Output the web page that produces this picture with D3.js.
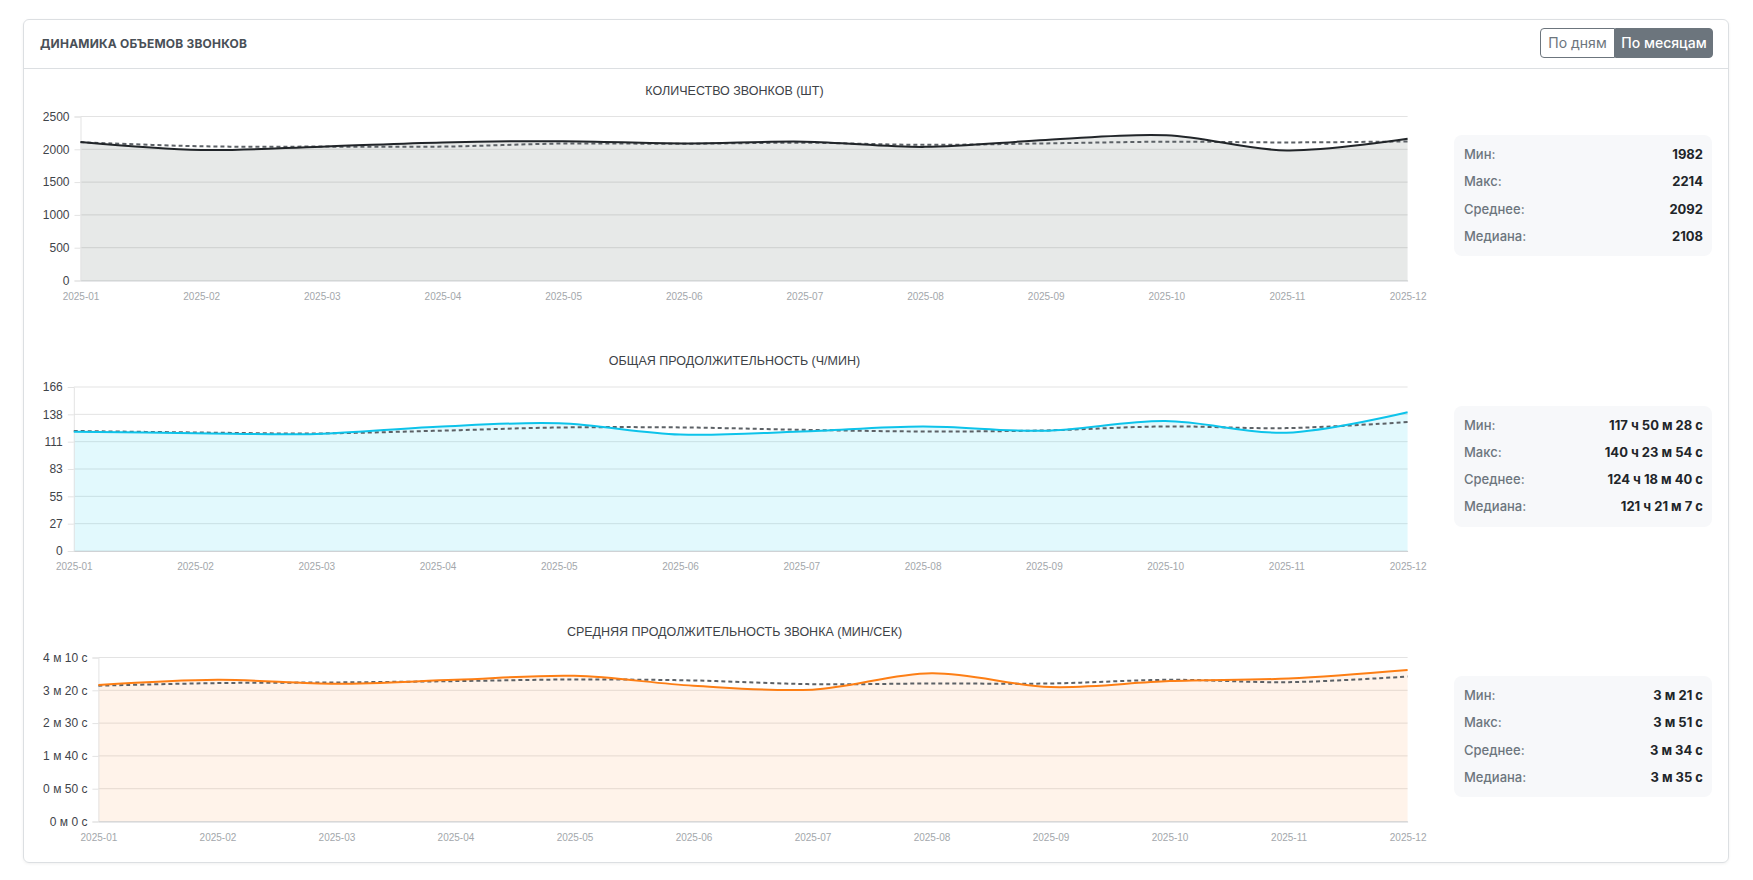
<!DOCTYPE html>
<html>
<head>
<meta charset="utf-8">
<title>Динамика объемов звонков</title>
<script src="https://cdn.jsdelivr.net/npm/d3@7/dist/d3.min.js"></script>
<style>
  body { margin: 0; background: #fff; font-family: Inter, "Open Sans", sans-serif; }
  .card { position: absolute; left: 23px; top: 19px; width: 1706px; height: 844px;
          border: 1px solid #dcdfe2; border-radius: 6px; box-sizing: border-box;
          box-shadow: 0 1px 3px rgba(0,0,0,0.06); }
  .card-head { position: absolute; left: 0; top: 0; right: 0; height: 48px; border-bottom: 1px solid #dcdfe2; }
  .card-title { position: absolute; left: 16px; top: 16px; font-size: 12px; font-weight: 700;
                color: #495057; letter-spacing: 0.2px; }
  .btns { position: absolute; left: 1516px; top: 8px; display: flex; }
  .btn { height: 30px; box-sizing: border-box; font-size: 14px; line-height: 28px; padding: 0;
         text-align: center; white-space: nowrap; flex: none;
         border: 1px solid #6c757d; color: #6c757d; background: #fff; }
  .btn.l { width: 75px; border-radius: 4px 0 0 4px; }
  .btn.r { width: 98px; border-radius: 0 4px 4px 0; background: #6c757d; color: #fff; font-weight: 500; }
  .stats { position: absolute; left: 1454px; width: 258px; height: 121px; background: #f7f8fa;
           border-radius: 8px; box-sizing: border-box; padding: 9px 9px 0 10px; }
  .row { display: flex; justify-content: space-between; height: 27.3px; line-height: 21px; font-size: 13px; }
  .row .k { color: #6c757d; font-weight: 500; }
  .row .v { color: #212529; font-weight: 700; }
  svg { position: absolute; left: 0; top: 0; }
</style>
</head>
<body>
<div class="card">
  <div class="card-head">
    <div class="card-title">ДИНАМИКА ОБЪЕМОВ ЗВОНКОВ</div>
    <div class="btns"><div class="btn l">По дням</div><div class="btn r">По месяцам</div></div>
  </div>
</div>
<svg id="charts" width="1753" height="880"></svg>
<script>
const months = ['2025-01','2025-02','2025-03','2025-04','2025-05','2025-06',
                '2025-07','2025-08','2025-09','2025-10','2025-11','2025-12']

// количество звонков
const callsCount = [2112, 1990, 2040, 2104, 2124, 2090, 2116, 2037, 2142, 2214, 1982, 2160]
const callsTrend = [2108, 2046, 2041, 2041, 2088, 2084, 2100, 2068, 2090, 2116, 2105, 2120]
const callsTicks = [0, 500, 1000, 1500, 2000, 2500]
const callsTickLabels = ['0', '500', '1000', '1500', '2000', '2500']

// общая продолжительность, часы
const totalHours = [120.7, 119.3, 118.5, 125.8, 129.2, 117.84, 121.0, 126.1, 121.7, 131.5, 119.7, 140.4]
const totalTrend = [121.5, 120.0, 119.0, 121.7, 125.0, 125.1, 122.7, 121.0, 122.0, 126.1, 124.4, 130.5]
const totalTicks = [0, 27.667, 55.333, 83, 110.667, 138.333, 166]
const totalTickLabels = ['0', '27', '55', '83', '111', '138', '166']

// средняя продолжительность, секунды
const avgSeconds = [208, 216, 210, 216, 222, 207, 201, 226, 205, 214, 218, 231]
const avgTrend = [207, 211, 212, 214, 216.5, 215, 209.3, 210.4, 210.4, 216, 212.4, 221]
const avgTicks = [0, 50, 100, 150, 200, 250]
const avgTickLabels = ['0 м 0 с', '0 м 50 с', '1 м 40 с', '2 м 30 с', '3 м 20 с', '4 м 10 с']

const statLabels = ['Мин:', 'Макс:', 'Среднее:', 'Медиана:']
const callsStats = ['1982', '2214', '2092', '2108']
const totalStats = ['117 ч 50 м 28 с', '140 ч 23 м 54 с', '124 ч 18 м 40 с', '121 ч 21 м 7 с']
const avgStats = ['3 м 21 с', '3 м 51 с', '3 м 34 с', '3 м 35 с']

const svg = d3.select('#charts')

function drawChart(o) {
    const g = svg.append('g')
    const x = d3.scalePoint().domain(months).range([o.left, 1407.6])
    const y = d3.scaleLinear().domain([0, o.ticks[o.ticks.length - 1]]).range([o.top + 164, o.top])

    g.append('text')
        .attr('x', 734.5).attr('y', o.top - 26)
        .attr('text-anchor', 'middle').attr('dominant-baseline', 'central')
        .attr('font-family', 'Liberation Sans, Arial, sans-serif')
        .attr('font-size', 12.5).attr('fill', '#3d4247')
        .text(o.title)

    // grid
    g.selectAll('.grid').data(o.ticks).enter().append('line')
        .attr('x1', o.left).attr('x2', 1407.6)
        .attr('y1', d => y(d)).attr('y2', d => y(d))
        .attr('stroke', '#e3e3e3').attr('stroke-width', 1)

    const curve = d3.curveCatmullRom.alpha(0.5)
    const area = d3.area().x((d, i) => x(months[i])).y0(y(0)).y1(d => y(d)).curve(curve)
    const line = d3.line().x((d, i) => x(months[i])).y(d => y(d)).curve(curve)

    g.append('path').datum(o.values).attr('d', area).attr('fill', o.fill)

    const yAxis = d3.axisLeft(y).tickValues(o.ticks)
        .tickFormat((d, i) => o.tickLabels[i]).tickSize(6).tickPadding(5)
    const ya = g.append('g').attr('transform', 'translate(' + o.left + ',0)').call(yAxis)
    ya.select('.domain').attr('stroke', '#e3e3e3')
    ya.selectAll('line').attr('stroke', '#e3e3e3')
    ya.selectAll('text').attr('font-family', 'Liberation Sans, Arial, sans-serif')
        .attr('font-size', 12).attr('fill', '#3f444a')

    const xAxis = d3.axisBottom(x).tickSize(0).tickPadding(12)
    const xa = g.append('g').attr('transform', 'translate(0,' + y(0) + ')').call(xAxis)
    xa.select('.domain').attr('stroke', '#cfd2d5')
    xa.selectAll('text').attr('font-family', 'Liberation Sans, Arial, sans-serif')
        .attr('font-size', 10).attr('fill', '#a3a7ab')

    g.append('path').datum(o.trend).attr('d', line)
        .attr('fill', 'none').attr('stroke', '#5c6166').attr('stroke-width', 2)
        .attr('stroke-dasharray', '4,3')
    g.append('path').datum(o.values).attr('d', line)
        .attr('fill', 'none').attr('stroke', o.color).attr('stroke-width', 2)

    const box = d3.select('body').append('div').attr('class', 'stats')
        .style('top', (o.top + 18.5) + 'px')
    statLabels.forEach((k, i) => {
        const r = box.append('div').attr('class', 'row')
        r.append('span').attr('class', 'k').text(k)
        r.append('span').attr('class', 'v').text(o.stats[i])
    })
}

drawChart({ title: 'КОЛИЧЕСТВО ЗВОНКОВ (ШТ)', top: 116.5, left: 80.5,
    values: callsCount, trend: callsTrend, ticks: callsTicks, tickLabels: callsTickLabels,
    color: '#212529', fill: 'rgba(40,56,48,0.11)', stats: callsStats })
drawChart({ title: 'ОБЩАЯ ПРОДОЛЖИТЕЛЬНОСТЬ (Ч/МИН)', top: 387, left: 73.8,
    values: totalHours, trend: totalTrend, ticks: totalTicks, tickLabels: totalTickLabels,
    color: '#0dc3ea', fill: 'rgba(13,202,240,0.12)', stats: totalStats })
drawChart({ title: 'СРЕДНЯЯ ПРОДОЛЖИТЕЛЬНОСТЬ ЗВОНКА (МИН/СЕК)', top: 657.5, left: 98.4,
    values: avgSeconds, trend: avgTrend, ticks: avgTicks, tickLabels: avgTickLabels,
    color: '#fd7e14', fill: 'rgba(253,126,20,0.09)', stats: avgStats })
</script>
</body>
</html>
